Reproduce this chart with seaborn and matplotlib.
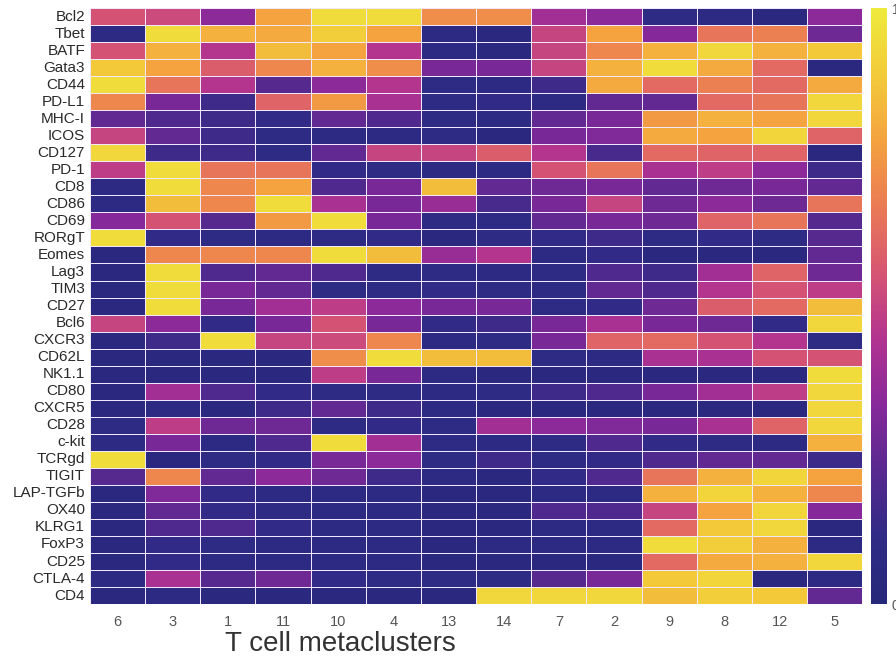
import numpy as np
import pandas as pd
import matplotlib
matplotlib.use("Agg")
import matplotlib.pyplot as plt
from matplotlib.colors import LinearSegmentedColormap
import seaborn as sns

markers = ["Bcl2", "Tbet", "BATF", "Gata3", "CD44", "PD-L1", "MHC-I", "ICOS", "CD127",
           "PD-1", "CD8", "CD86", "CD69", "RORgT", "Eomes", "Lag3", "TIM3", "CD27", "Bcl6",
           "CXCR3", "CD62L", "NK1.1", "CD80", "CXCR5", "CD28", "c-kit", "TCRgd", "TIGIT",
           "LAP-TGFb", "OX40", "KLRG1", "FoxP3", "CD25", "CTLA-4", "CD4"]
clusters = ["6", "3", "1", "11", "10", "4", "13", "14", "7", "2", "9", "8", "12", "5"]

# scaled expression per marker (rows) for each metacluster (columns)
expression = [
    [0.55, 0.52, 0.35, 0.78, 0.95, 0.95, 0.72, 0.72, 0.40, 0.35, 0.10, 0.08, 0.05, 0.35],  # Bcl2
    [0.08, 0.95, 0.82, 0.80, 0.90, 0.78, 0.08, 0.05, 0.50, 0.78, 0.33, 0.65, 0.68, 0.28],  # Tbet
    [0.55, 0.82, 0.45, 0.85, 0.78, 0.45, 0.08, 0.05, 0.50, 0.70, 0.82, 0.93, 0.82, 0.88],  # BATF
    [0.88, 0.78, 0.58, 0.70, 0.82, 0.72, 0.30, 0.30, 0.50, 0.82, 0.95, 0.80, 0.62, 0.05],  # Gata3
    [0.95, 0.65, 0.45, 0.22, 0.35, 0.45, 0.10, 0.08, 0.15, 0.80, 0.62, 0.68, 0.62, 0.80],  # CD44
    [0.70, 0.30, 0.15, 0.60, 0.75, 0.42, 0.10, 0.12, 0.08, 0.25, 0.25, 0.62, 0.65, 0.93],  # PD-L1
    [0.25, 0.20, 0.15, 0.12, 0.25, 0.20, 0.10, 0.08, 0.25, 0.30, 0.75, 0.82, 0.78, 0.93],  # MHC-I
    [0.50, 0.25, 0.15, 0.10, 0.08, 0.08, 0.10, 0.05, 0.30, 0.32, 0.80, 0.78, 0.92, 0.60],  # ICOS
    [0.93, 0.15, 0.15, 0.10, 0.25, 0.50, 0.50, 0.58, 0.45, 0.18, 0.62, 0.60, 0.60, 0.05],  # CD127
    [0.48, 0.95, 0.65, 0.65, 0.12, 0.10, 0.08, 0.08, 0.55, 0.65, 0.42, 0.48, 0.35, 0.15],  # PD-1
    [0.08, 0.95, 0.70, 0.78, 0.20, 0.30, 0.85, 0.25, 0.28, 0.30, 0.25, 0.28, 0.30, 0.25],  # CD8
    [0.08, 0.85, 0.70, 0.95, 0.42, 0.30, 0.38, 0.18, 0.30, 0.50, 0.28, 0.35, 0.28, 0.65],  # CD86
    [0.33, 0.55, 0.22, 0.75, 0.95, 0.30, 0.10, 0.10, 0.25, 0.30, 0.28, 0.60, 0.65, 0.22],  # CD69
    [0.95, 0.12, 0.10, 0.08, 0.10, 0.12, 0.05, 0.10, 0.12, 0.15, 0.10, 0.12, 0.10, 0.22],  # RORgT
    [0.05, 0.70, 0.70, 0.70, 0.95, 0.85, 0.38, 0.45, 0.08, 0.12, 0.05, 0.05, 0.05, 0.25],  # Eomes
    [0.05, 0.95, 0.20, 0.25, 0.20, 0.10, 0.10, 0.08, 0.10, 0.20, 0.15, 0.40, 0.60, 0.28],  # Lag3
    [0.05, 0.95, 0.30, 0.25, 0.10, 0.10, 0.12, 0.10, 0.10, 0.25, 0.20, 0.45, 0.55, 0.48],  # TIM3
    [0.05, 0.95, 0.30, 0.40, 0.48, 0.35, 0.30, 0.30, 0.10, 0.12, 0.28, 0.58, 0.62, 0.85],  # CD27
    [0.50, 0.35, 0.12, 0.30, 0.55, 0.30, 0.12, 0.15, 0.30, 0.42, 0.30, 0.28, 0.12, 0.93],  # Bcl6
    [0.05, 0.15, 0.95, 0.50, 0.52, 0.70, 0.08, 0.10, 0.30, 0.60, 0.62, 0.55, 0.45, 0.10],  # CXCR3
    [0.05, 0.05, 0.05, 0.05, 0.72, 0.95, 0.85, 0.85, 0.10, 0.08, 0.42, 0.42, 0.55, 0.55],  # CD62L
    [0.05, 0.05, 0.05, 0.05, 0.48, 0.30, 0.08, 0.05, 0.05, 0.05, 0.05, 0.05, 0.05, 0.95],  # NK1.1
    [0.05, 0.40, 0.20, 0.12, 0.10, 0.10, 0.08, 0.10, 0.15, 0.20, 0.30, 0.40, 0.48, 0.93],  # CD80
    [0.05, 0.08, 0.05, 0.15, 0.25, 0.15, 0.08, 0.05, 0.05, 0.05, 0.05, 0.05, 0.05, 0.93],  # CXCR5
    [0.10, 0.48, 0.28, 0.28, 0.10, 0.12, 0.10, 0.40, 0.35, 0.32, 0.30, 0.42, 0.60, 0.93],  # CD28
    [0.08, 0.30, 0.08, 0.20, 0.95, 0.40, 0.10, 0.08, 0.10, 0.20, 0.12, 0.10, 0.08, 0.82],  # c-kit
    [0.95, 0.05, 0.10, 0.12, 0.30, 0.35, 0.10, 0.15, 0.10, 0.12, 0.20, 0.25, 0.25, 0.15],  # TCRgd
    [0.22, 0.70, 0.25, 0.35, 0.28, 0.15, 0.08, 0.05, 0.12, 0.20, 0.65, 0.82, 0.92, 0.78],  # TIGIT
    [0.05, 0.32, 0.12, 0.08, 0.08, 0.08, 0.05, 0.05, 0.08, 0.08, 0.82, 0.92, 0.82, 0.70],  # LAP-TGFb
    [0.05, 0.25, 0.12, 0.10, 0.08, 0.08, 0.05, 0.05, 0.20, 0.20, 0.50, 0.78, 0.92, 0.33],  # OX40
    [0.05, 0.20, 0.20, 0.12, 0.08, 0.08, 0.05, 0.05, 0.08, 0.08, 0.62, 0.88, 0.93, 0.05],  # KLRG1
    [0.05, 0.12, 0.10, 0.08, 0.08, 0.08, 0.05, 0.08, 0.08, 0.08, 0.95, 0.90, 0.82, 0.08],  # FoxP3
    [0.05, 0.12, 0.08, 0.08, 0.08, 0.08, 0.05, 0.05, 0.05, 0.05, 0.62, 0.80, 0.82, 0.93],  # CD25
    [0.08, 0.42, 0.22, 0.28, 0.12, 0.10, 0.10, 0.10, 0.22, 0.30, 0.88, 0.92, 0.05, 0.08],  # CTLA-4
    [0.05, 0.08, 0.05, 0.05, 0.05, 0.05, 0.05, 0.93, 0.93, 0.93, 0.85, 0.90, 0.88, 0.25],  # CD4
]

df = pd.DataFrame(expression, index=markers, columns=clusters)

# plasma-like map with the bluer navy low end seen in the figure
cmap = LinearSegmentedColormap.from_list(
    "navy_plasma",
    ["#26287a", "#2f2b86", "#57298f", "#87299a", "#b23390", "#d65573",
     "#ea7a55", "#f4a23f", "#f3cb3a", "#eeea3c"])

sns.set_style("white")
plt.rcParams["font.family"] = ["Liberation Sans", "DejaVu Sans"]

fig = plt.figure(figsize=(8.96, 6.69), dpi=100)
ax = fig.add_axes([0.1004, 0.097, 0.862, 0.891])
cax = fig.add_axes([0.972, 0.097, 0.018, 0.891])

sns.heatmap(df, ax=ax, cbar_ax=cax, cmap=cmap, vmin=0, vmax=1,
            linewidths=0.6, linecolor="#f0e8fa")

ax.tick_params(axis="both", length=0)
ax.set_yticklabels(markers, rotation=0, fontsize=11, color="#2a2a2a")
ax.set_xticklabels(clusters, rotation=0, fontsize=10.5, color="#555555")
ax.tick_params(axis="x", pad=8)
ax.set_xlabel("T cell metaclusters", fontsize=20, color="#333333", labelpad=4)
ax.xaxis.set_label_coords(0.324, -0.045, transform=ax.transAxes)
ax.xaxis.label.set_verticalalignment("top")
ax.set_ylabel("")

cax.set_yticks([0, 1])
cax.tick_params(length=0, labelsize=10, labelcolor="#555555")

fig.savefig("out.png", dpi=100)
